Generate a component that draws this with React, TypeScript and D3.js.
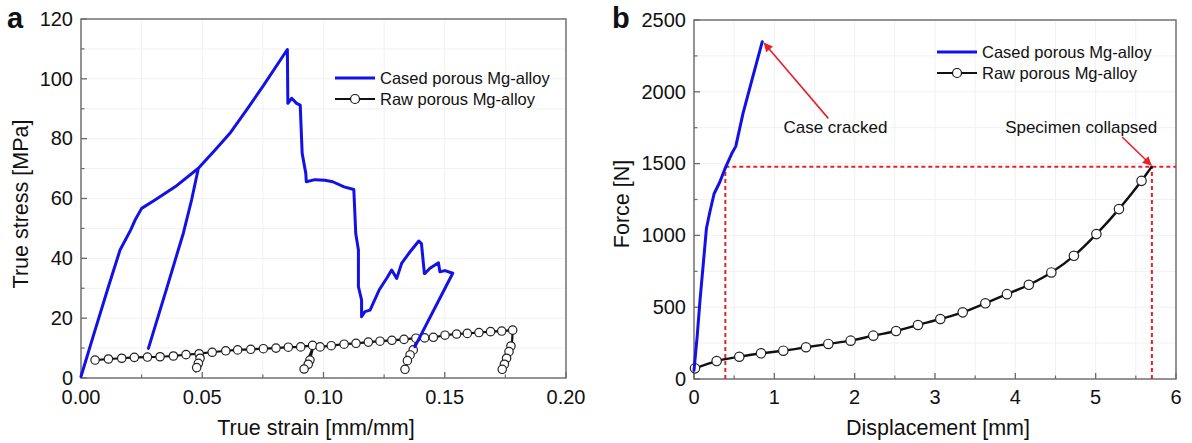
import * as d3 from "d3";

// ---- panel a : true stress / true strain
const casedStrain = [
  0, 0.0058, 0.0113, 0.0161, 0.0205, 0.0223, 0.025, 0.0305, 0.0388, 0.0484,
  0.0456, 0.0422, 0.0401, 0.036, 0.0278, 0.036, 0.0401, 0.0422, 0.0456, 0.0484,
  0.0553, 0.0614, 0.0683, 0.075, 0.0851, 0.0853, 0.0869, 0.0889, 0.0904, 0.0912, 0.0927,
  0.0929, 0.0965, 0.1006, 0.1038, 0.1085, 0.1125, 0.1133, 0.1144, 0.1144, 0.1157, 0.1157, 0.1171,
  0.1192, 0.123, 0.1262, 0.1281, 0.1302, 0.1322, 0.1357, 0.1393, 0.1404, 0.1416, 0.1419, 0.1439,
  0.1474, 0.148, 0.1501, 0.1533, 0.1377,
];
const casedStress = [
  0.5, 16, 30.5, 42.8, 49.5, 52.8, 56.7, 59.5, 63.9, 70.1,
  59.5, 48.4, 42.8, 31.7, 9.9, 31.7, 42.8, 48.4, 59.5, 70.1,
  76.2, 81.8, 89.6, 97.5, 109.8, 91.8, 93.5, 91.8, 91.2, 75.1, 68.4,
  65.6, 66.3, 66.1, 65.6, 63.9, 63.0, 48.3, 42.8, 30.5, 26.1, 20.5, 22.2,
  22.7, 29.5, 33.5, 36.1, 33.3, 38.3, 42.2, 45.8, 44.9, 34.9, 35.0, 36.7,
  38.5, 35.5, 35.9, 35.0, 10.5,
];
const rawStrain = [
  0.0058, 0.0113, 0.0168, 0.022, 0.0274, 0.0326, 0.0381, 0.0433, 0.0487, 0.0503, 0.0491, 0.0484,
  0.0477, 0.0474, 0.0503, 0.0541, 0.0597, 0.0646, 0.07, 0.0752, 0.0804, 0.0855, 0.0906, 0.0955,
  0.0958, 0.0944, 0.0937, 0.092, 0.0917, 0.0958, 0.0986, 0.1032, 0.1085, 0.1134, 0.1185, 0.1233,
  0.1282, 0.1332, 0.1381, 0.1387, 0.137, 0.1357, 0.1346, 0.1336, 0.1387, 0.1417, 0.1453, 0.1501,
  0.1549, 0.1593, 0.1641, 0.1689, 0.1735, 0.178, 0.1778, 0.1773, 0.1765, 0.1755, 0.1746, 0.1737,
];
const rawStress = [
  6.0, 6.35, 6.6, 6.9, 7.0, 7.1, 7.35, 7.8, 8.1, 8.3, 6.6, 4.9,
  3.5, 2.2, 8.3, 8.6, 9.1, 9.4, 9.6, 9.8, 10.0, 10.3, 10.4, 10.9,
  10.5, 6.0, 4.6, 3.0, 2.5, 10.5, 10.4, 10.8, 11.3, 11.6, 12.0, 12.3,
  12.6, 12.9, 13.3, 13.1, 9.4, 7.7, 5.8, 2.9, 13.1, 13.4, 13.6, 14.3,
  14.7, 14.9, 15.2, 15.5, 15.7, 16.0, 12.5, 10.7, 8.8, 6.6, 4.6, 2.9,
];
// 1 = a circle sits on this point
const rawMarkA = [
  1, 1, 1, 1, 1, 1, 1, 1, 1, 0, 1, 1,
  1, 0, 0, 1, 1, 1, 1, 1, 1, 1, 1, 1,
  0, 1, 1, 1, 0, 0, 1, 1, 1, 1, 1, 1,
  1, 1, 1, 0, 1, 1, 1, 1, 0, 1, 1, 1,
  1, 1, 1, 1, 1, 1, 0, 1, 1, 1, 1, 1,
];

// ---- panel b : force / displacement
const casedDisp = [0, 0.04, 0.075, 0.12, 0.155, 0.2, 0.25, 0.32, 0.39, 0.47, 0.52, 0.61, 0.72, 0.85];
const casedForce = [60, 300, 550, 830, 1050, 1170, 1290, 1370, 1470, 1570, 1620, 1850, 2080, 2349];
const rawDisp = [
  0.012, 0.282, 0.564, 0.834, 1.112, 1.394, 1.672, 1.95, 2.232, 2.515, 2.788, 3.066,
  3.345, 3.627, 3.896, 4.168, 4.448, 4.729, 5.009, 5.29, 5.571, 5.697,
];
const rawForce = [
  74, 125, 155, 179, 197, 221, 244, 267, 302, 334, 376, 418,
  464, 527, 591, 656, 742, 858, 1009, 1183, 1380, 1478,
];
const rawMarkB = [1, 1, 1, 1, 1, 1, 1, 1, 1, 1, 1, 1, 1, 1, 1, 1, 1, 1, 1, 1, 1, 0];

// guide lines / notes in b
const collapseForce = 1478;
const crackDisp = 0.39;
const collapseDisp = 5.7;
const crackArrow = [[1.672, 1815], [0.875, 2338]];
const collapseArrow = [[5.33, 1685], [5.69, 1490]];
const crackNote = [1.76, 1755];
const collapseNote = [4.82, 1755];

const strainTicks = [0, 0.05, 0.1, 0.15, 0.2];
const stressTicks = [0, 20, 40, 60, 80, 100, 120];
const dispTicks = [0, 1, 2, 3, 4, 5, 6];
const forceTicks = [0, 500, 1000, 1500, 2000, 2500];
const legendLabels = ["Cased porous Mg-alloy", "Raw porous Mg-alloy"];

const FONT = "'Liberation Sans', Arial, Helvetica, sans-serif";
const BLUE = "#1212e4";
const RED = "#e8202a";
const AXIS = "#6a6a6a";

// scales
const xA = d3.scaleLinear().domain([0, 0.2]).range([81, 566]);
const yA = d3.scaleLinear().domain([0, 120]).range([378, 19]);
const xB = d3.scaleLinear().domain([0, 6]).range([694, 1176]);
const yB = d3.scaleLinear().domain([0, 2500]).range([379, 20]);

const mids = (t: number[]) => t.slice(1).map((v, i) => (v + t[i]) / 2);

function Frame({ x, y, xt, yt, xf, yf, xTitle, yTitle, xTitleX, yTitleX, tag, tagX }: any) {
  const [x0, x1] = x.range();
  const [y0, y1] = y.range();
  const xm = mids(xt);
  const ym = mids(yt);
  return (
    <g>
      {/* faint grid */}
      {[...xt, ...xm].map((v: number, i: number) => (
        <line key={"gx" + i} x1={x(v)} x2={x(v)} y1={y0} y2={y1} stroke="#f1f1f1" />
      ))}
      {[...yt, ...ym].map((v: number, i: number) => (
        <line key={"gy" + i} y1={y(v)} y2={y(v)} x1={x0} x2={x1} stroke="#f1f1f1" />
      ))}
      <rect x={x0} y={y1} width={x1 - x0} height={y0 - y1} fill="none" stroke={AXIS} strokeWidth={1.4} />
      {xt.map((v: number) => (
        <line key={"tx" + v} x1={x(v)} x2={x(v)} y1={y0} y2={y0 - 6} stroke={AXIS} strokeWidth={1.3} />
      ))}
      {xm.map((v: number) => (
        <line key={"mx" + v} x1={x(v)} x2={x(v)} y1={y0} y2={y0 - 3.5} stroke={AXIS} strokeWidth={1.2} />
      ))}
      {yt.map((v: number) => (
        <line key={"ty" + v} y1={y(v)} y2={y(v)} x1={x0} x2={x0 + 6} stroke={AXIS} strokeWidth={1.3} />
      ))}
      {ym.map((v: number) => (
        <line key={"my" + v} y1={y(v)} y2={y(v)} x1={x0} x2={x0 + 3.5} stroke={AXIS} strokeWidth={1.2} />
      ))}
      <g fontFamily={FONT} fontSize={20} fill="#111">
        {xt.map((v: number) => (
          <text key={"lx" + v} x={x(v)} y={404} textAnchor="middle">{xf(v)}</text>
        ))}
        {yt.map((v: number) => (
          <text key={"ly" + v} x={x0 - 8} y={y(v)} dy="0.34em" textAnchor="end">{yf(v)}</text>
        ))}
      </g>
      <text x={xTitleX} y={427} dy="0.35em" textAnchor="middle" fontFamily={FONT} fontSize={21.5} fill="#111">
        {xTitle}
      </text>
      <text
        transform={`translate(${yTitleX},204) rotate(-90)`}
        dy="0.35em"
        textAnchor="middle"
        fontFamily={FONT}
        fontSize={21.5}
        fill="#111"
      >
        {yTitle}
      </text>
      <text x={tagX} y={28} fontFamily={FONT} fontSize={29} fontWeight="bold" fill="#111">{tag}</text>
    </g>
  );
}

function Legend({ lx, ly }: { lx: number; ly: number }) {
  return (
    <g fontFamily={FONT} fontSize={16.5} fill="#111">
      <line x1={lx} x2={lx + 40} y1={ly} y2={ly} stroke={BLUE} strokeWidth={3} />
      <text x={lx + 45} y={ly} dy="0.35em">{legendLabels[0]}</text>
      <line x1={lx} x2={lx + 40} y1={ly + 21} y2={ly + 21} stroke="#111" strokeWidth={2.2} />
      <circle cx={lx + 20} cy={ly + 21} r={4.5} fill="#fff" stroke="#111" strokeWidth={1.2} />
      <text x={lx + 45} y={ly + 21} dy="0.35em">{legendLabels[1]}</text>
    </g>
  );
}

function Series({ xs, ys, x, y, color, width, marks, r, curve }: any) {
  const pts = xs.map((v: number, i: number) => [x(v), y(ys[i])] as [number, number]);
  const path = d3.line().curve(curve || d3.curveLinear)(pts) || "";
  return (
    <g>
      <path d={path} fill="none" stroke={color} strokeWidth={width} strokeLinejoin="round" strokeLinecap="round" />
      {marks &&
        pts.map((p: [number, number], i: number) =>
          marks[i] ? (
            <circle key={i} cx={p[0]} cy={p[1]} r={r} fill="#fff" stroke="#222" strokeWidth={1.2} />
          ) : null
        )}
    </g>
  );
}

export default function App() {
  const fmtStrain = d3.format(".2f");
  const fmtInt = d3.format("d");
  return (
    <svg
      width={1192}
      height={443}
      viewBox="0 0 1192 443"
      style={{ position: "absolute", left: 0, top: 0, background: "#fff" }}
    >
      <defs>
        <marker id="redHead" viewBox="0 0 10 10" refX={9} refY={5} markerWidth={11} markerHeight={9}
          markerUnits="userSpaceOnUse" orient="auto">
          <path d="M0,0 L10,5 L0,10 Z" fill={RED} />
        </marker>
      </defs>

      {/* panel a */}
      <Frame x={xA} y={yA} xt={strainTicks} yt={stressTicks} xf={fmtStrain} yf={fmtInt}
        xTitle="True strain [mm/mm]" yTitle="True stress [MPa]" xTitleX={316} yTitleX={20} tag="a" tagX={7} />
      <Series xs={rawStrain} ys={rawStress} x={xA} y={yA} color="#111" width={2.2} marks={rawMarkA} r={4.2} />
      <Series xs={casedStrain} ys={casedStress} x={xA} y={yA} color={BLUE} width={3} />
      <Legend lx={335} ly={78} />

      {/* panel b */}
      <Frame x={xB} y={yB} xt={dispTicks} yt={forceTicks} xf={fmtInt} yf={fmtInt}
        xTitle="Displacement [mm]" yTitle="Force [N]" xTitleX={938} yTitleX={621} tag="b" tagX={612} />
      <g stroke={RED} strokeWidth={2} strokeDasharray="4,3" fill="none">
        <line x1={xB(crackDisp)} x2={xB.range()[1]} y1={yB(collapseForce)} y2={yB(collapseForce)} />
        <line x1={xB(crackDisp)} x2={xB(crackDisp)} y1={yB(0)} y2={yB(collapseForce)} />
        <line x1={xB(collapseDisp)} x2={xB(collapseDisp)} y1={yB(0)} y2={yB(collapseForce)} />
      </g>
      <Series xs={rawDisp} ys={rawForce} x={xB} y={yB} color="#111" width={2.4} marks={rawMarkB} r={4.7}
        curve={d3.curveMonotoneX} />
      <Series xs={casedDisp} ys={casedForce} x={xB} y={yB} color={BLUE} width={3} />
      {[crackArrow, collapseArrow].map((a, i) => (
        <line key={i} x1={xB(a[0][0])} y1={yB(a[0][1])} x2={xB(a[1][0])} y2={yB(a[1][1])}
          stroke={RED} strokeWidth={1.6} markerEnd="url(#redHead)" />
      ))}
      <g fontFamily={FONT} fontSize={17} fill="#111" textAnchor="middle">
        <text x={xB(crackNote[0])} y={yB(crackNote[1])} dy="0.35em">Case cracked</text>
        <text x={xB(collapseNote[0])} y={yB(collapseNote[1])} dy="0.35em">Specimen collapsed</text>
      </g>
      <Legend lx={937} ly={52} />
    </svg>
  );
}
